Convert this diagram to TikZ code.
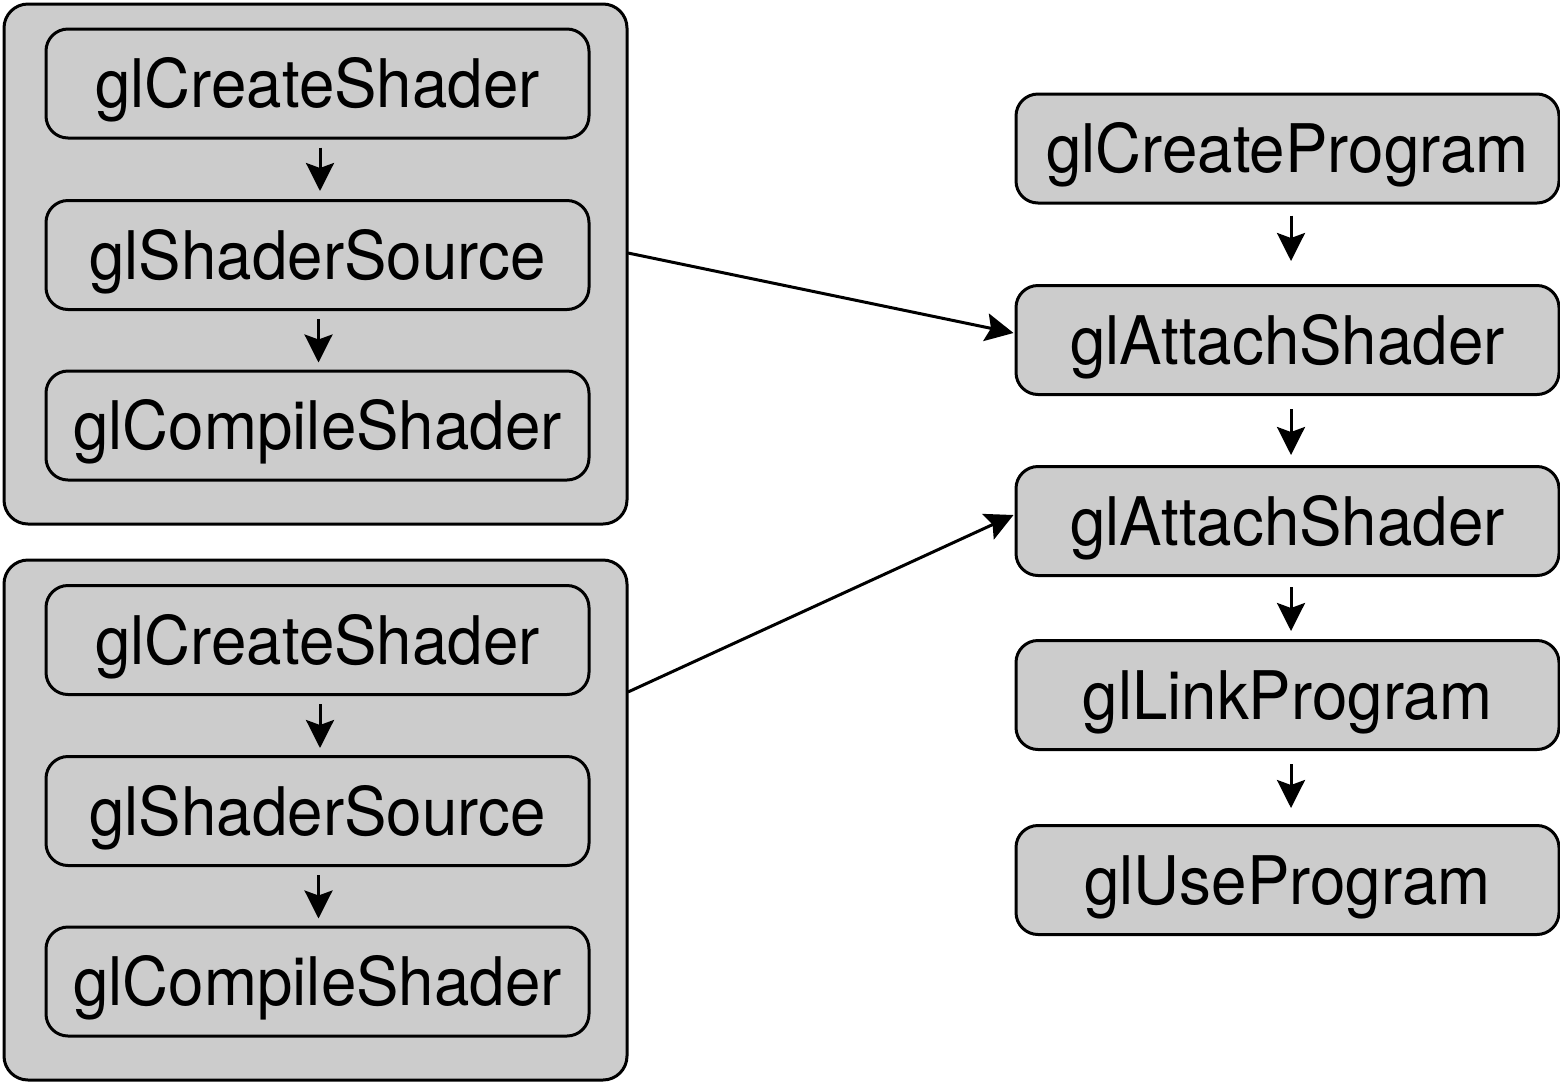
\documentclass[tikz,border=0pt]{standalone}
\usepackage{fontspec}
\setmainfont{TeX Gyre Heros}
\newfontfamily\callfont[FakeStretch=0.95]{TeX Gyre Heros}
\usetikzlibrary{arrows.meta,calc}
\begin{document}
\begin{tikzpicture}[x=0.5pt,y=-0.5pt,
  group/.style={draw=black,line width=1.5pt,fill=boxgray,rounded corners=12pt},
  call/.style={draw=black,line width=1.5pt,fill=boxgray,rounded corners=11pt,
    minimum width=271.5pt,minimum height=54.5pt,inner sep=0pt,
    text height=24pt,text depth=0pt,
    font=\callfont\fontsize{33.5}{38}\selectfont},
  tip/.style={-{Stealth[length=14pt,width=14pt,inset=2.5pt]}},
  flow/.style={line width=1.5pt,tip},
  link/.style={line width=1.5pt,tip}]
\definecolor{boxgray}{gray}{0.8}
\useasboundingbox (0,0) rectangle (1560,1083);

% shader group frames
\draw[group] (4,4) rectangle (627,524);
\draw[group] (4,560) rectangle (627,1080);

% first shader
\node[call] (cs1) at (317.5,83.5) {glCreateShader};
\node[call] (ss1) at (317.5,255) {glShaderSource};
\node[call] (cp1) at (317.5,425.5) {glCompileShader};
% second shader
\node[call] (cs2) at (317.5,640) {glCreateShader};
\node[call] (ss2) at (317.5,811) {glShaderSource};
\node[call] (cp2) at (317.5,981.5) {glCompileShader};

% program steps
\node[call] (cprog) at (1287.5,148.5) {glCreateProgram};
\node[call] (att1) at (1287.5,340) {glAttachShader};
\node[call] (att2) at (1287.5,521) {glAttachShader};
\node[call] (link) at (1287.5,695) {glLinkProgram};
\node[call] (use) at (1287.5,880) {glUseProgram};

% frame anchors for the cross links
\coordinate (g1) at (628,253);
\coordinate (g2) at (628,692);

% arrows inside the shader groups
\draw[flow] ($(cs1.south)+(2.5,8)$) -- ($(ss1.north)+(2.5,-8)$);
\draw[flow] ($(ss1.south)+(1,8)$) -- ($(cp1.north)+(1,-7)$);
\draw[flow] ($(cs2.south)+(2.5,8)$) -- ($(ss2.north)+(2.5,-7)$);
\draw[flow] ($(ss2.south)+(1,8)$) -- ($(cp2.north)+(1,-7)$);

% program arrows
\draw[flow] ($(cprog.south)+(3.5,11)$) -- ($(att1.north)+(3.5,-23)$);
\draw[flow] ($(att1.south)+(3.5,13)$) -- ($(att2.north)+(3.5,-10)$);
\draw[flow] ($(att2.south)+(3.5,10)$) -- ($(link.north)+(3.5,-8)$);
\draw[flow] ($(link.south)+(3.5,13)$) -- ($(use.north)+(3.5,-16)$);

% shaders attached to the program
\draw[link] (g1) -- ($(att1.west)+(-1,-7)$);
\draw[link] (g2) -- ($(att2.west)+(-1,-6)$);
\end{tikzpicture}
\end{document}
